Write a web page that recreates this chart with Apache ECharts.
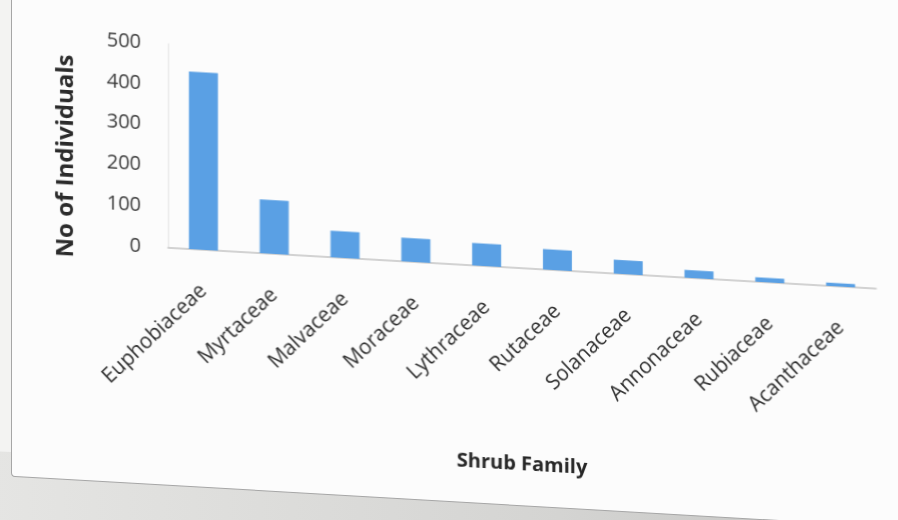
<!DOCTYPE html>
<html>
<head>
<meta charset="utf-8">
<title>Shrub Family</title>
<script src="https://cdn.jsdelivr.net/npm/echarts@6/dist/echarts.min.js"></script>
<style>
  html, body { margin: 0; padding: 0; width: 898px; height: 520px; overflow: hidden; background: #f3f3f2; }
  #floor {
    position: absolute; left: -40px; top: 472px; width: 1000px; height: 120px;
    background: linear-gradient(90deg, #e6e6e4 0%, #d4d4d2 60%, #c0c0be 100%);
    transform: skewY(2.6deg); transform-origin: 489px -170px;
  }
  #card {
    position: absolute; left: 11px; top: -40px; width: 920px; height: 540px;
    background: #fcfcfc; border: 1px solid #a6a6a6; border-radius: 4px;
    transform: skewY(3.3deg); transform-origin: 438px 300px;
  }
  #chart { position: absolute; left: 0; top: 0; width: 920px; height: 540px; }
</style>
</head>
<body>
<div id="floor"></div>
<div id="card"><div id="chart"></div></div>
<script>
// Shrub families and number of individuals counted
const families = ['Euphobiaceae', 'Myrtaceae', 'Malvaceae', 'Moraceae', 'Lythraceae',
                  'Rutaceae', 'Solanaceae', 'Annonaceae', 'Rubiaceae', 'Acanthaceae'];
const individuals = [435, 132, 65, 58, 55, 50, 34, 19, 11, 8];
const yTicks = { min: 0, max: 500, step: 100 };

const chart = echarts.init(document.getElementById('chart'), null, { renderer: 'canvas' });
const font = '"Open Sans", "Noto Sans", sans-serif';

chart.setOption({
  animation: false,
  backgroundColor: 'transparent',
  grid: { left: 156, top: 99, width: 708, height: 204 },
  graphic: [{
    type: 'text',
    x: 54, y: 217, rotation: Math.PI / 2,
    style: {
      text: 'No of Individuals', font: 'bold 24px ' + font,
      fill: '#2b2b2b', align: 'center', verticalAlign: 'middle'
    }
  }],
  xAxis: {
    type: 'category',
    data: families,
    name: 'Shrub Family',
    nameLocation: 'middle',
    nameGap: 186,
    nameTextStyle: { fontFamily: font, fontWeight: 'bold', fontSize: 20, color: '#262626' },
    axisLine: { lineStyle: { color: '#c4c4c4', width: 1.5 } },
    axisTick: { show: false },
    axisLabel: { rotate: 45, fontFamily: font, fontSize: 21, color: '#2f2f2f', margin: 38, interval: 0 }
  },
  yAxis: {
    type: 'value',
    min: yTicks.min, max: yTicks.max, interval: yTicks.step,
    axisLine: { show: true, lineStyle: { color: '#e2e2e2' } },
    axisTick: { show: false },
    splitLine: { show: false },
    axisLabel: { fontFamily: font, fontSize: 20, color: '#3c3c3c', margin: 27 }
  },
  series: [{
    type: 'bar',
    data: individuals,
    barWidth: 29,
    itemStyle: { color: '#5aa0e4' }
  }]
});
</script>
</body>
</html>
